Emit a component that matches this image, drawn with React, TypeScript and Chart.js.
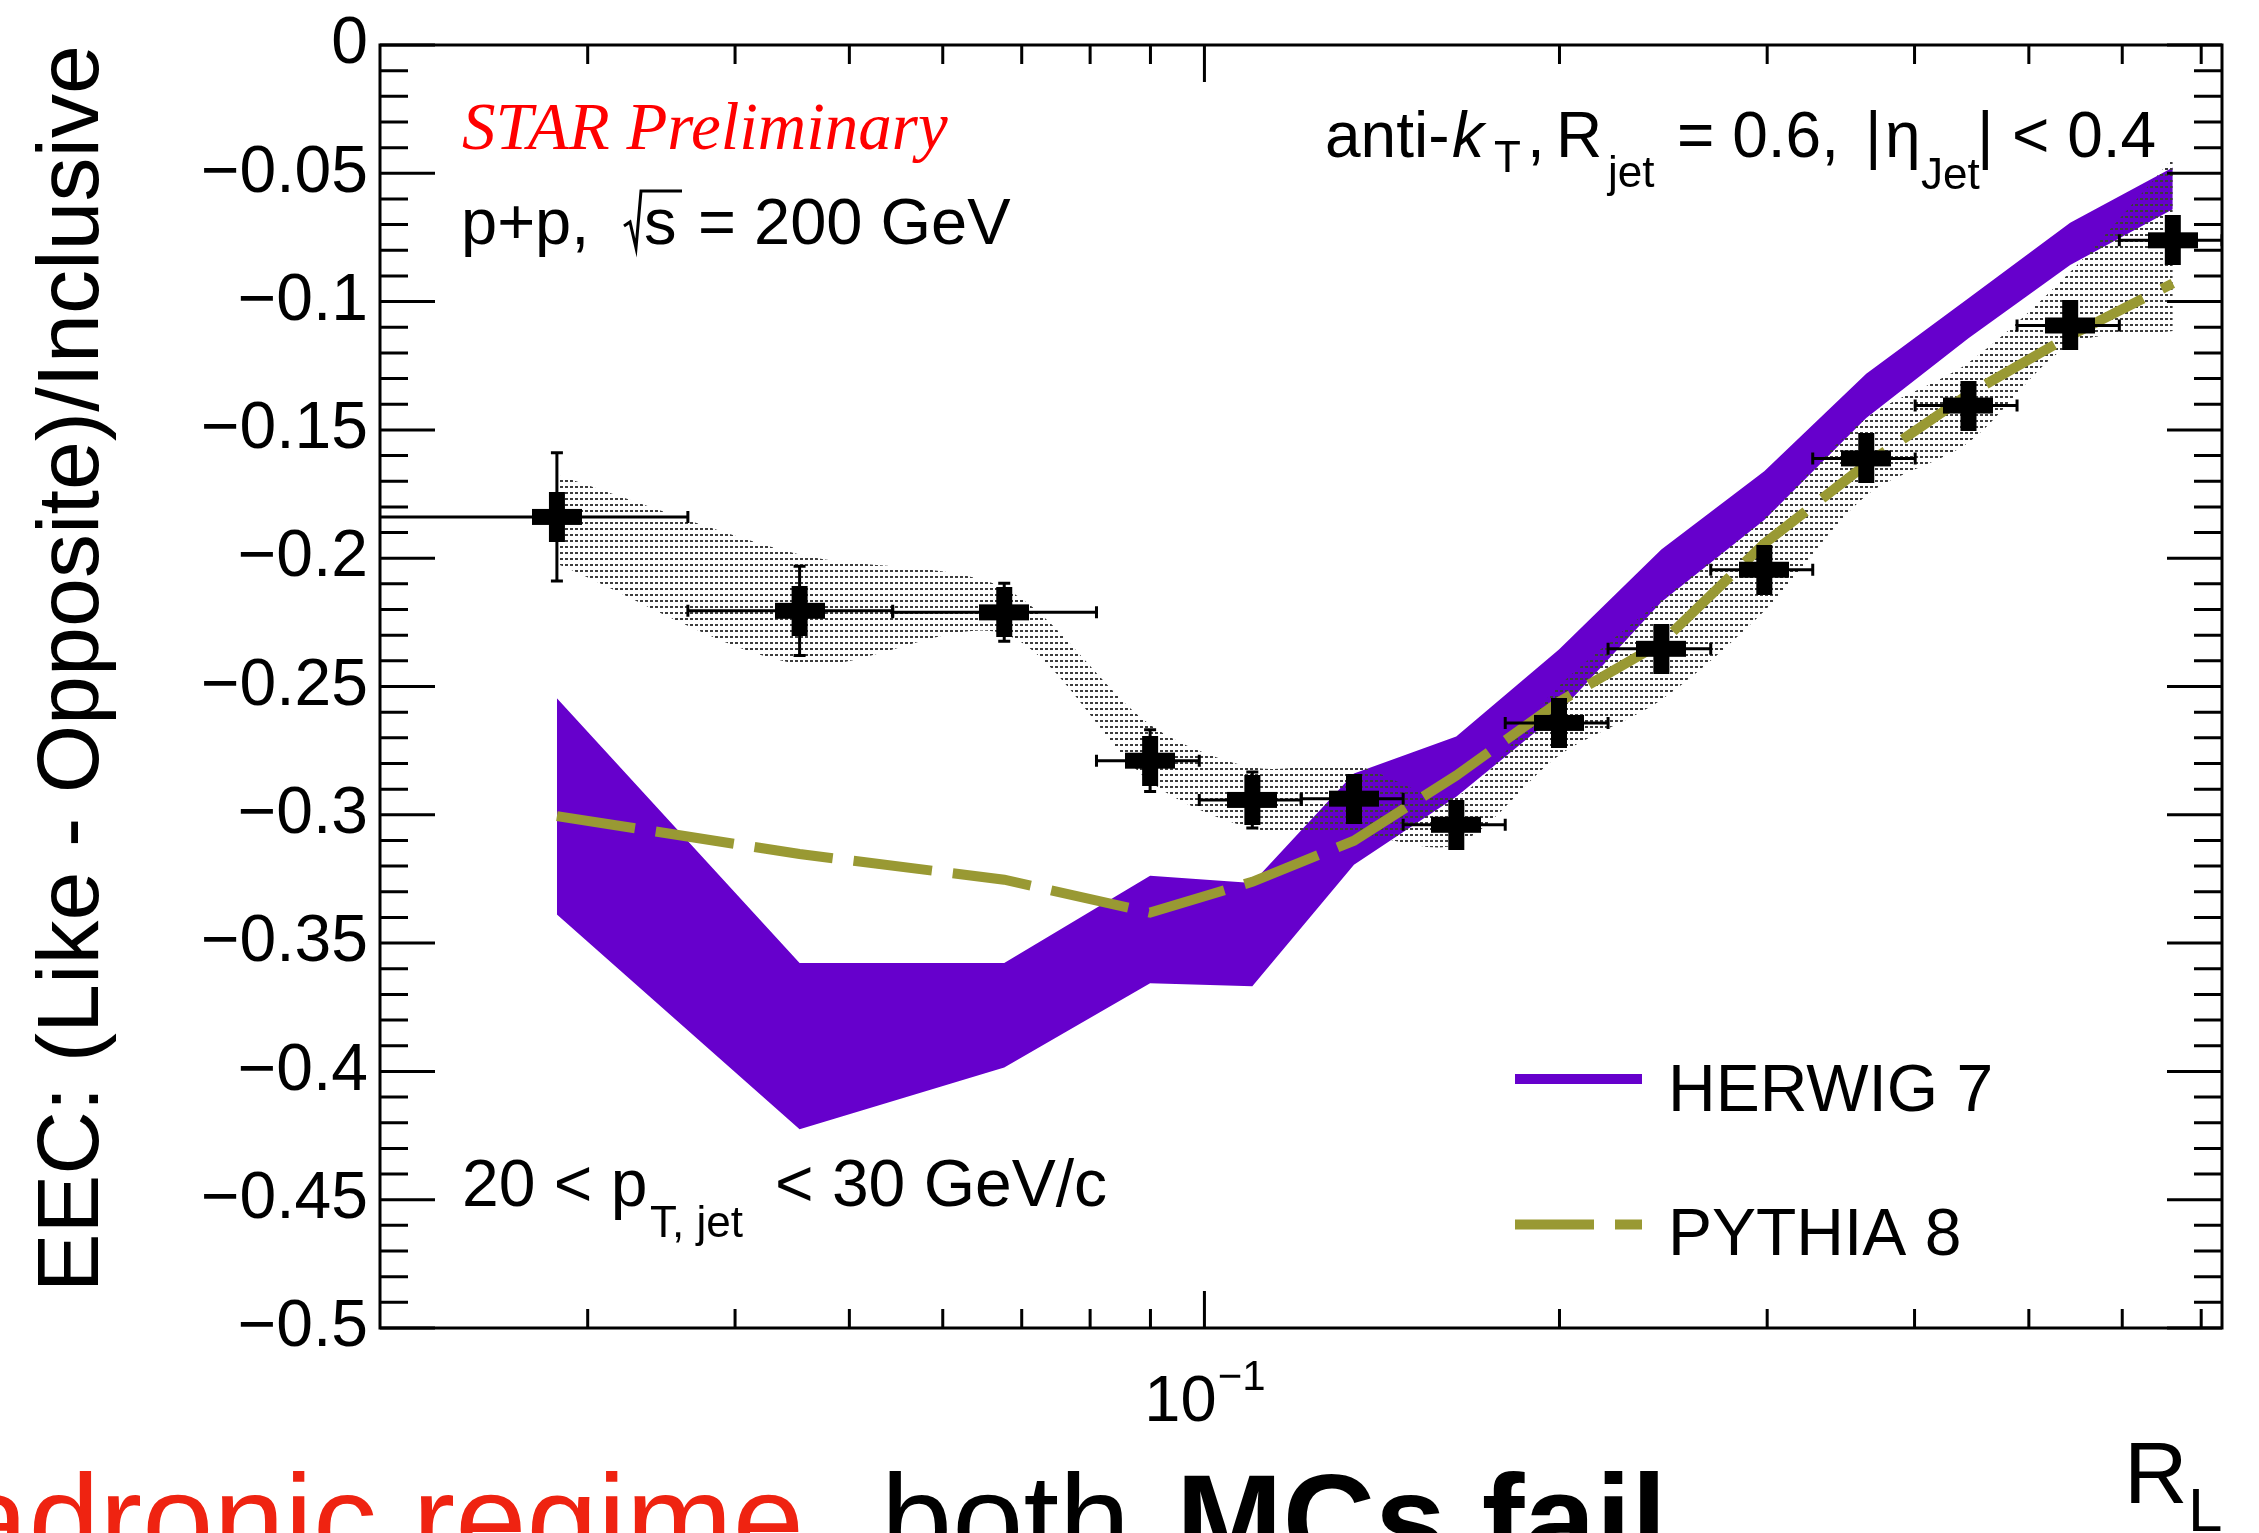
import { useEffect, useRef } from 'react';
import { Chart, registerables } from 'chart.js';

Chart.register(...registerables);

const W = 2259;
const H = 1533;

// ---------------- data ----------------
const rlCenters = [0.02825, 0.04537, 0.06765, 0.08994, 0.1098, 0.1339, 0.1635, 0.1998, 0.244, 0.2983, 0.364, 0.4444, 0.542, 0.6622];
const rlBinLow = [0.015, 0.03648, 0.05441, 0.081, 0.099, 0.1208, 0.1474, 0.1799, 0.2199, 0.2687, 0.3279, 0.4005, 0.4886, 0.5966];
const rlBinHigh = [0.03648, 0.05441, 0.081, 0.099, 0.1208, 0.1474, 0.1799, 0.2199, 0.2687, 0.3279, 0.4005, 0.4886, 0.5966, 0.729];
const starValues = [-0.1839, -0.2205, -0.2211, -0.2789, -0.2942, -0.2937, -0.3039, -0.2642, -0.2353, -0.2045, -0.1611, -0.1405, -0.1093, -0.0761];
const starStatErr = [0.025, 0.0174, 0.0113, 0.012, 0.0109, 0.007, 0.006, 0.006, 0.005, 0.005, 0.005, 0.005, 0.005, 0.006];
const starSysUpper = [-0.1675, -0.1986, -0.2117, -0.2649, -0.2815, -0.2808, -0.2927, -0.2498, -0.2163, -0.1843, -0.1454, -0.1238, -0.0885, -0.0441];
const starSysLower = [-0.2022, -0.2414, -0.2295, -0.287, -0.3052, -0.3071, -0.3116, -0.2769, -0.2552, -0.2206, -0.1756, -0.1549, -0.1169, -0.1115];
const herwigUpper = [-0.2546, -0.3578, -0.3578, -0.3238, -0.3266, -0.2839, -0.2695, -0.2356, -0.1966, -0.1661, -0.1281, -0.0987, -0.0693, -0.0477];
const herwigLower = [-0.3389, -0.4225, -0.3985, -0.3656, -0.3668, -0.3195, -0.293, -0.2602, -0.2171, -0.1851, -0.1454, -0.1143, -0.0857, -0.064];
const pythiaValues = [-0.3005, -0.3153, -0.3253, -0.3381, -0.3261, -0.3101, -0.2847, -0.256, -0.233, -0.1943, -0.1634, -0.1361, -0.1133, -0.0929];

const yTickValues = [-0.5, -0.45, -0.4, -0.35, -0.3, -0.25, -0.2, -0.15, -0.1, -0.05, 0];
const yTickLabels = ['\u22120.5', '\u22120.45', '\u22120.4', '\u22120.35', '\u22120.3', '\u22120.25', '\u22120.2', '\u22120.15', '\u22120.1', '\u22120.05', '0'];
const xMajorTicks = [0.1];
const xMinorTicks = [0.03, 0.04, 0.05, 0.06, 0.07, 0.08, 0.09, 0.2, 0.3, 0.4, 0.5, 0.6, 0.7];
const xTickBase = '10';
const xTickExponent = '\u22121';
const legendLabels = ['HERWIG 7', 'PYTHIA 8'];

const SANS = "'Liberation Sans', Arial, Helvetica, sans-serif";
const SERIF = "'Liberation Serif', 'Times New Roman', serif";
const PURPLE = '#6600cc';
const OLIVE = '#999933';
const DATA_INDEX = 5;

function drawText(ctx: CanvasRenderingContext2D, s: string, x: number, y: number, font: string, color = '#000') {
  ctx.font = font;
  ctx.fillStyle = color;
  ctx.textAlign = 'left';
  ctx.textBaseline = 'alphabetic';
  ctx.fillText(s, x, y);
}

const decorPlugin = {
  id: 'rootDecor',
  beforeDatasetDraw(chart: any, args: any) {
    if (args.index !== DATA_INDEX) return;
    const { ctx, chartArea: a } = chart;
    const xs = chart.scales.x;
    const ys = chart.scales.y;
    ctx.save();
    ctx.beginPath();
    ctx.rect(a.left, a.top, a.right - a.left, a.bottom - a.top);
    ctx.clip();
    ctx.strokeStyle = '#000';
    ctx.lineWidth = 3;
    ctx.setLineDash([]);
    for (let i = 0; i < rlCenters.length; i++) {
      const px = xs.getPixelForValue(rlCenters[i]);
      const py = ys.getPixelForValue(starValues[i]);
      const xl = xs.getPixelForValue(rlBinLow[i]);
      const xh = xs.getPixelForValue(rlBinHigh[i]);
      const yt = ys.getPixelForValue(starValues[i] + starStatErr[i]);
      const yb = ys.getPixelForValue(starValues[i] - starStatErr[i]);
      ctx.beginPath();
      ctx.moveTo(xl, py); ctx.lineTo(xh, py);
      ctx.moveTo(xl, py - 6); ctx.lineTo(xl, py + 6);
      ctx.moveTo(xh, py - 6); ctx.lineTo(xh, py + 6);
      ctx.moveTo(px, yt); ctx.lineTo(px, yb);
      ctx.moveTo(px - 6, yt); ctx.lineTo(px + 6, yt);
      ctx.moveTo(px - 6, yb); ctx.lineTo(px + 6, yb);
      ctx.stroke();
    }
    ctx.restore();
  },
  afterDatasetsDraw(chart: any) {
    const { ctx, chartArea: a } = chart;
    const xs = chart.scales.x;
    const ys = chart.scales.y;
    ctx.save();
    ctx.setLineDash([]);
    ctx.strokeStyle = '#000';
    ctx.lineWidth = 3;
    ctx.beginPath();
    for (let i = 0; i <= 50; i++) {
      const v = -0.5 + i * 0.01;
      const len = i % 5 === 0 ? 55 : 28;
      const y = ys.getPixelForValue(v);
      ctx.moveTo(a.left, y); ctx.lineTo(a.left + len, y);
      ctx.moveTo(a.right, y); ctx.lineTo(a.right - len, y);
    }
    const xt = (v: number, len: number) => {
      const x = xs.getPixelForValue(v);
      ctx.moveTo(x, a.bottom); ctx.lineTo(x, a.bottom - len);
      ctx.moveTo(x, a.top); ctx.lineTo(x, a.top + len);
    };
    xMinorTicks.forEach((v) => xt(v, 19));
    xMajorTicks.forEach((v) => xt(v, 37));
    ctx.stroke();
    ctx.strokeRect(a.left, a.top, a.right - a.left, a.bottom - a.top);
    ctx.restore();
  },
  afterDraw(chart: any) {
    const { ctx } = chart;
    const xs = chart.scales.x;
    ctx.save();
    ctx.setLineDash([]);

    // x tick label 10^-1
    {
      const f1 = `65px ${SANS}`;
      const f2 = `42px ${SANS}`;
      ctx.font = f1;
      const w1 = ctx.measureText(xTickBase).width;
      ctx.font = f2;
      const w2 = ctx.measureText(xTickExponent).width;
      const cx = xs.getPixelForValue(xMajorTicks[0]);
      const x0 = cx - (w1 + w2) / 2;
      drawText(ctx, xTickBase, x0, 1421, f1);
      drawText(ctx, xTickExponent, x0 + w1 + 1, 1390, f2);
    }

    // x axis title R_L
    drawText(ctx, 'R', 2124, 1503, `88px ${SANS}`);
    drawText(ctx, 'L', 2188, 1531, `62px ${SANS}`);

    // STAR Preliminary
    drawText(ctx, 'STAR Preliminary', 462, 149, `italic 67px ${SERIF}`, '#ff0000');

    // p+p, sqrt(s) = 200 GeV
    const F = `65px ${SANS}`;
    drawText(ctx, 'p+p,', 461, 244, F);
    drawText(ctx, 's', 644, 244, F);
    drawText(ctx, '= 200 GeV', 698, 244, F);
    ctx.strokeStyle = '#000';
    ctx.lineWidth = 3;
    ctx.beginPath();
    ctx.moveTo(624, 226);
    ctx.lineTo(630, 222);
    ctx.lineTo(636, 248);
    ctx.lineTo(641, 191);
    ctx.lineTo(682, 191);
    ctx.stroke();

    // anti-kT, R_jet = 0.6, |eta_Jet| < 0.4
    const Fa = `64px ${SANS}`;
    const Fs = `44px ${SANS}`;
    drawText(ctx, 'anti-', 1325, 157, Fa);
    drawText(ctx, 'k', 1452, 157, `italic 64px ${SANS}`);
    drawText(ctx, 'T', 1494, 172, Fs);
    drawText(ctx, ',', 1527, 157, Fa);
    drawText(ctx, 'R', 1556, 157, Fa);
    drawText(ctx, 'jet', 1608, 187, Fs);
    drawText(ctx, '= 0.6,', 1677, 157, Fa);
    drawText(ctx, '|', 1865, 157, Fa);
    drawText(ctx, '\u03b7', 1885, 157, Fa);
    drawText(ctx, 'Jet', 1921, 189, Fs);
    drawText(ctx, '|', 1977, 157, Fa);
    drawText(ctx, '< 0.4', 2012, 157, Fa);

    // 20 < pT,jet < 30 GeV/c
    drawText(ctx, '20 < p', 462, 1206, `66px ${SANS}`);
    drawText(ctx, 'T, jet', 650, 1237, Fs);
    drawText(ctx, '< 30 GeV/c', 775, 1206, `66px ${SANS}`);

    // legend
    ctx.fillStyle = PURPLE;
    ctx.fillRect(1515, 1074, 127, 10);
    ctx.strokeStyle = OLIVE;
    ctx.lineWidth = 10;
    ctx.setLineDash([79, 21]);
    ctx.beginPath();
    ctx.moveTo(1515, 1224.5);
    ctx.lineTo(1642, 1224.5);
    ctx.stroke();
    ctx.setLineDash([]);
    drawText(ctx, legendLabels[0], 1668, 1111, `66px ${SANS}`);
    drawText(ctx, legendLabels[1], 1668, 1255, `66px ${SANS}`);

    // slide text at the bottom (cut off by the page edge)
    drawText(ctx, 'hadronic regime,', -114, 1564, `128px ${SANS}`, '#ef2311');
    drawText(ctx, 'both', 881, 1564, `128px ${SANS}`);
    drawText(ctx, 'MCs fail', 1176, 1564, `bold 128px ${SANS}`);

    ctx.restore();
  },
};

export default function App() {
  const canvasRef = useRef<HTMLCanvasElement | null>(null);

  useEffect(() => {
    const canvas = canvasRef.current;
    if (!canvas) return;
    const ctx = canvas.getContext('2d')!;

    // dotted fill pattern for systematic band
    const pc = document.createElement('canvas');
    pc.width = 5;
    pc.height = 6;
    const pctx = pc.getContext('2d')!;
    pctx.fillStyle = '#3c3c3c';
    pctx.fillRect(0, 0, 3, 2);
    const pattern = ctx.createPattern(pc, 'repeat');

    // thick cross marker
    const mc = document.createElement('canvas');
    mc.width = 50;
    mc.height = 50;
    const m = mc.getContext('2d')!;
    m.fillStyle = '#000';
    m.fillRect(17, 0, 16, 50);
    m.fillRect(0, 17, 50, 16);

    const xy = (vals: number[]) => rlCenters.map((x, i) => ({ x, y: vals[i] }));

    const datasets: any[] = [
      {
        label: 'HERWIG 7 upper', data: xy(herwigUpper), showLine: true, fill: '+1',
        backgroundColor: PURPLE, borderColor: 'rgba(0,0,0,0)', borderWidth: 0, pointRadius: 0, tension: 0, order: 40,
      },
      {
        label: 'HERWIG 7 lower', data: xy(herwigLower), showLine: true, fill: false,
        borderColor: 'rgba(0,0,0,0)', borderWidth: 0, pointRadius: 0, tension: 0, order: 41,
      },
      {
        label: 'STAR sys upper', data: xy(starSysUpper), showLine: true, fill: '+1',
        backgroundColor: pattern, borderColor: 'rgba(0,0,0,0)', borderWidth: 0, pointRadius: 0, tension: 0.3, order: 30,
      },
      {
        label: 'STAR sys lower', data: xy(starSysLower), showLine: true, fill: false,
        borderColor: 'rgba(0,0,0,0)', borderWidth: 0, pointRadius: 0, tension: 0.3, order: 31,
      },
      {
        label: 'PYTHIA 8', data: xy(pythiaValues), showLine: true, fill: false,
        borderColor: OLIVE, borderWidth: 10, borderDash: [79, 21], borderCapStyle: 'butt',
        pointRadius: 0, tension: 0, order: 20,
      },
      {
        label: 'STAR', data: xy(starValues), showLine: false, pointStyle: mc,
        pointRadius: 25, backgroundColor: '#000', borderColor: '#000', order: 10,
      },
    ];

    const chart = new Chart(ctx, {
      type: 'scatter',
      data: { datasets },
      options: {
        responsive: false,
        animation: false,
        events: [],
        layout: { padding: { left: 0, top: 37, right: 37, bottom: 0 } },
        plugins: { legend: { display: false }, tooltip: { enabled: false } },
        scales: {
          x: {
            type: 'logarithmic',
            min: 0.02,
            max: 0.729,
            grid: { display: false, drawTicks: false },
            border: { display: false },
            ticks: { display: false },
            afterFit: (s: any) => { s.height = 205; },
          },
          y: {
            type: 'linear',
            min: -0.5,
            max: 0,
            grid: { display: false, drawTicks: false },
            border: { display: false },
            afterBuildTicks: (s: any) => { s.ticks = yTickValues.map((v) => ({ value: v })); },
            ticks: {
              color: '#000',
              autoSkip: false,
              padding: 12,
              font: { family: SANS, size: 66, lineHeight: 1 },
              callback: (_v: any, i: number) => yTickLabels[i],
            },
            title: {
              display: true,
              text: 'EEC: (Like - Opposite)/Inclusive',
              align: 'end',
              color: '#000',
              font: { family: SANS, size: 88 },
              padding: { top: 21, bottom: 0 },
            },
            afterFit: (s: any) => { s.width = 380; },
          },
        },
      } as any,
      plugins: [decorPlugin as any],
    });

    return () => chart.destroy();
  }, []);

  return (
    <div style={{ position: 'absolute', left: 0, top: 0, width: W, height: H, background: '#fff' }}>
      <canvas ref={canvasRef} width={W} height={H} style={{ display: 'block', width: W, height: H }} />
    </div>
  );
}
